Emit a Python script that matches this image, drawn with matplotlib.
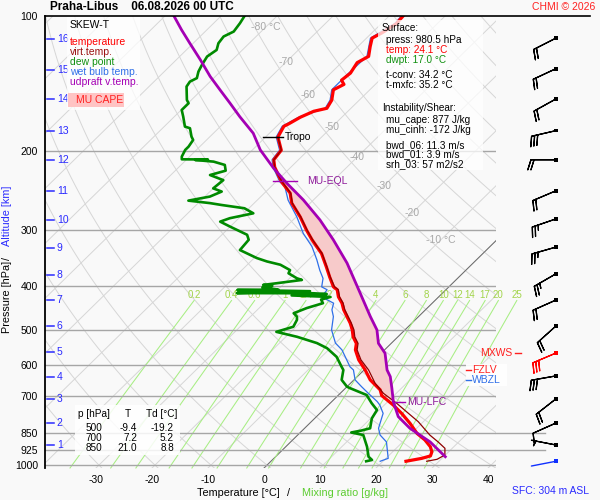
import numpy as np
import matplotlib
matplotlib.use("Agg")
import matplotlib.pyplot as plt
from matplotlib.patches import Rectangle
from matplotlib.lines import Line2D
from matplotlib.ticker import NullLocator, NullFormatter

plt.rcParams['font.family'] = ['Liberation Sans', 'DejaVu Sans']

# ------------------------------------------------------------------ data
temp_p = [980.5, 966, 954, 934, 910, 879, 850, 807, 767, 735, 700, 680, 646, 614, 583,
          554, 536, 518, 500, 483, 451, 436, 422, 407, 401, 381, 362, 338, 315, 300,
          280, 261, 248, 234, 226, 217, 209, 199, 186, 176, 174, 168, 163, 160.5, 154,
          146, 142, 139, 134, 127, 123, 117, 112, 109, 104, 100]
temp_t = [24.1, 26.4, 27.5, 27.0, 25.8, 23.6, 21.0, 17.9, 14.6, 11.6, 7.8, 6.5, 2.9, 0.2, -2.8,
          -5.2, -6.2, -8.0, -9.4, -11.0, -14.6, -16.1, -17.9, -19.4, -20.6, -23.1, -25.5, -28.8, -33.0, -35.7,
          -39.3, -43.3, -45.4, -49.0, -50.8, -52.9, -54.4, -54.8, -57.8, -58.7, -58.3, -57.4, -56.1, -54.3, -54.9,
          -56.5, -55.6, -56.8, -56.5, -57.2, -56.3, -57.8, -59.0, -58.2, -57.3, -57.5]

virt_p = [980.5, 970.7, 949.5, 917.5, 887.8, 857.4, 800.6, 760.8, 728.5, 692.1, 657.5, 614, 583,
          554, 536, 518, 500, 483, 451, 436, 422, 407, 401, 381, 362, 338, 315, 300,
          280, 261, 248, 234, 226, 217, 209, 199, 186]
virt_t = [27.8, 29.3, 29.9, 28.7, 26.3, 23.6, 19.1, 15.2, 11.9, 7.7, 4.4, 0.8, -2.4,
          -4.9, -5.9, -7.7, -9.1, -10.8, -14.4, -15.9, -17.7, -19.2, -20.4, -23.0, -25.4, -28.7, -32.9, -35.6,
          -39.2, -43.2, -45.3, -48.9, -50.8, -52.9, -54.4, -54.8, -57.8]

dewp_p = [980.5, 974, 958, 910, 857, 846, 838, 828, 787, 754, 728, 698, 674, 669, 646, 614, 604,
          574, 549, 535, 518, 505, 492, 475, 467, 459, 447, 436, 428, 422.3, 419, 416,
          414.4, 414, 410, 407.4, 406.5, 402, 399, 397, 393.6, 387, 383.7, 374, 368, 358, 352, 346,
          332, 315, 307, 294.5, 287, 282, 275, 268, 263.5, 261, 257.7, 252.4, 246, 242, 232,
          226, 221, 214.6, 211, 209.2, 208.7, 208.5, 205.6, 198.7, 195.4, 188.8, 185.6, 177.8,
          176.3, 167.6, 161.9, 156.4, 153.8, 143.6, 140, 137.5, 133, 128.5, 123.1, 119, 115,
          111.1, 108.3, 103.8, 100]
dewp_t = [17.0, 17.8, 16.6, 14.5, 11.7, 9.1, 10.5, 11.7, 10.2, 9.6, 7.4, 5.0, 0.8, 0.0, -2.2, -3.7, -4.6,
          -7.3, -10.6, -13.3, -18.0, -22.6, -20.5, -21.1, -21.7, -22.9, -21.5, -19.5, -20.5, -19.3, -26.5, -20.5,
          -23.0, -36.7, -24.0, -37.2, -30.0, -33.2, -31.7, -33.5, -31.4, -27.5, -28.7, -31.1, -31.4, -34.1, -37.1, -39.5,
          -44.0, -44.3, -45.5, -50.0, -52.7, -51.6, -48.3, -50.8, -55.5, -57.9, -62.2, -59.1, -57.9, -60.0, -59.7,
          -63.0, -61.0, -62.2, -64.8, -68.4, -66.2, -70.9, -71.4, -72.0, -72.0, -72.4, -73.3, -75.1,
          -76.3, -78.4, -79.9, -79.9, -80.8, -83.3, -83.6, -83.0, -83.9, -84.5, -85.1, -84.6, -85.5,
          -85.8, -84.9, -85.3, -85.8]

wetb_p = [980.5, 966, 888, 857, 828, 767, 735, 722, 692, 669, 646, 614, 604, 554, 535, 500, 467,
          451, 436, 422, 407, 401, 384, 368, 349, 326, 305, 280, 257, 240, 234, 226, 217, 209,
          199, 186, 176, 168, 160.5, 154, 146, 134, 123, 112, 104, 100]
wetb_t = [19.5, 20.4, 17.1, 14.7, 13.2, 11.3, 9.2, 8.1, 5.0, 2.6, 0.2, -1.9, -3.1, -7.6, -10.0, -13.1, -15.2,
          -16.7, -17.6, -20.9, -21.2, -22.7, -24.0, -26.1, -28.5, -31.8, -35.7, -39.9, -44.5, -47.5, -49.3, -51.1, -53.2, -54.7,
          -55.1, -58.1, -59.0, -57.7, -54.6, -55.2, -56.8, -56.8, -56.6, -59.3, -57.6, -57.8]

parc_p = [958, 888, 828, 780, 722.5, 674.5, 635.5, 614, 563.6, 535.5, 500, 467, 429, 414, 355,
          315, 284.5, 256.8, 235.7, 218.2, 198.7, 182.4, 167.6, 156.4, 146.1, 136.4, 125.2,
          115, 107.4, 100]
parc_t = [30.3, 24.9, 18.8, 14.6, 11.0, 8.3, 5.9, 4.1, 0.7, -2.3, -5.0, -8.6, -12.9, -14.7, -22.5,
          -29.2, -35.2, -41.8, -47.8, -52.9, -58.6, -62.9, -68.3, -72.5, -76.7, -80.9, -85.7,
          -90.6, -94.5, -98.4]

# wind barbs (pressure, direction deg, speed kt)
barb_p = [112, 131, 153, 180, 209, 245, 283, 327, 375, 429, 490, 563, 633, 712, 806, 902]
barb_dir = [243, 245, 241, 257, 270, 247, 251, 254, 240, 246, 228, 247, 260, 232, 246, 281]
barb_spd = [20, 20, 20, 30, 20, 20, 25, 25, 25, 20, 20, 30, 30, 20, 10, 5]
sfc_p, sfc_dir = 980.5, 259

# levels
lfc_p, el_p, trop_p = 722.0, 233.0, 186.0
mxws_p, fzl_p, wbz_p = 563.0, 614.0, 646.0

p_ticks = [100, 200, 300, 400, 500, 600, 700, 850, 925, 1000]
t_ticks = [-30, -20, -10, 0, 10, 20, 30, 40]
alt_km = list(range(1, 17))
alt_p = [902.5, 804.6, 712, 635.5, 560, 490, 428.8, 376.8, 328, 284.5, 245.2, 209.2, 180.1, 153.2, 131.7, 112.4]
mix_ratios = [0.2, 0.4, 0.6, 1, 1.4, 2, 3, 4, 6, 8, 10, 12, 14, 17, 20, 25]
iso_label_t = [-80, -70, -60, -50, -40, -30, -20, -10]
iso_label_p = [105.8, 126.6, 149.9, 176.6, 206, 239, 274.5, 315.3]

table_p = ['500', '700', '850']
table_t = ['-9.4', '7.2', '21.0']
table_td = ['-19.2', '5.2', '8.8']

# ------------------------------------------------------------------ geometry
PB = 1015.0      # bottom pressure of the diagram
SK = 35.52       # skew (deg C per unit ln p)
BG = '#f9f9f9'


def sx(t, p):
    return np.asarray(t, float) + SK * np.log(PB / np.asarray(p, float))


def td_from_w(w, p):
    e = w * p / (622.0 + w)
    l = np.log(e / 6.112)
    return 243.5 * l / (17.67 - l)


def fx(px):
    return px / 600.0


def fy(py):
    return 1.0 - py / 500.0


def py_of(p):
    return 468.0 - 195.04 * np.log(PB / p)


fig = plt.figure(figsize=(6, 5), dpi=100, facecolor=BG)
ax = fig.add_axes([45 / 600, 32 / 500, 451 / 600, 452 / 500])
ax.set_facecolor(BG)
ax.set_yscale('log')
ax.set_ylim(PB, 100)
ax.set_xlim(-39.1, 41.4)

# background grid -------------------------------------------------------
pp = np.geomspace(PB, 100, 80)
for t in range(-130, 50, 10):
    ax.plot(sx(t, pp), pp, color='#d6d6d6', lw=0.7, zorder=1)
ax.plot(sx(0, pp), pp, color='#6a6a6a', lw=0.7, zorder=1.2)
for th in range(-40, 190, 10):
    tt = (th + 273.15) * (pp / 1000.0) ** 0.2857 - 273.15
    ax.plot(sx(tt, pp), pp, color='#d6d6d6', lw=0.7, zorder=1)

for p in p_ticks[1:]:
    ax.axhline(p, color='#a6a6a6', lw=1.0, zorder=2)
for p in (850, 925):
    ax.plot([1.0, 1.109], [p, p], transform=ax.get_yaxis_transform(), color='#a6a6a6',
            lw=1.0, clip_on=False, zorder=2)

pm = np.geomspace(PB, 430, 40)
for w in mix_ratios:
    ax.plot(sx(td_from_w(w, pm), pm), pm, color='#a8ee84', lw=0.75, zorder=1.5, clip_on=False)
    ax.text(sx(td_from_w(w, 430.0), 430.0), 417, f'{w:g}', color='#a2d44a', fontsize=7,
            ha='center', va='center', zorder=2)

for t, p in zip(iso_label_t, iso_label_p):
    s = f'{t} °C' if t in (-80, -10) else f'{t}'
    ax.text(sx(t, p), p, s, color='#a8a8a8', fontsize=7.5, ha='center', va='center', zorder=2)

# CAPE ------------------------------------------------------------------
pg = np.geomspace(lfc_p, el_p, 120)
tv_i = np.interp(np.log(pg), np.log(virt_p[::-1]), virt_t[::-1])
pa_i = np.interp(np.log(pg), np.log(parc_p[::-1]), parc_t[::-1])
ax.fill_betweenx(pg, sx(tv_i, pg), sx(pa_i, pg), where=pa_i >= tv_i, color='#f7caca',
                 lw=0, zorder=3)

# profiles --------------------------------------------------------------
ax.plot(sx(wetb_t, wetb_p), wetb_p, color='#2f6fe8', lw=0.9, zorder=4)
ax.plot(sx(dewp_t, dewp_p), dewp_p, color='#008a00', lw=1.9, zorder=5)
ax.plot(sx(temp_t, temp_p), temp_p, color='#ff0000', lw=2.3, zorder=6)
ax.plot(sx(virt_t, virt_p), virt_p, color='#8e0000', lw=0.9, zorder=7)
ax.plot(sx(parc_t, parc_p), parc_p, color='#a400b4', lw=2.0, zorder=8)

# markers ---------------------------------------------------------------
t_trop = np.interp(np.log(trop_p), np.log(temp_p[::-1]), temp_t[::-1])
xt = sx(t_trop, trop_p)
ax.plot([xt - 2.7, xt + 0.9], [trop_p, trop_p], color='k', lw=1.0, zorder=9)
ax.text(xt + 1.2, trop_p, 'Tropo', fontsize=7.5, va='center', ha='left', zorder=9)

t_el = np.interp(np.log(el_p), np.log(parc_p[::-1]), parc_t[::-1])
xe = sx(t_el, el_p)
ax.plot([xe - 2.2, xe + 2.2], [el_p, el_p], color='#a400b4', lw=1.0, zorder=9)
ax.text(xe + 3.9, el_p, 'MU-EQL', color='#8e1a9a', fontsize=7.5, va='center', zorder=9)

t_lfc = np.interp(np.log(lfc_p), np.log(parc_p[::-1]), parc_t[::-1])
xl = sx(t_lfc, lfc_p)
ax.plot([xl, xl + 2.1], [lfc_p, lfc_p], color='#a400b4', lw=1.0, zorder=9)
ax.text(xl + 2.4, lfc_p, 'MU-LFC', color='#8e1a9a', fontsize=7.5, va='center', zorder=9)

# altitude ticks ------------------------------------------------------------
for km, p in zip(alt_km, alt_p):
    ax.plot([0.004, 0.020], [p, p], transform=ax.get_yaxis_transform(), color='#2a2aff',
            lw=1.1, zorder=9)
    ax.text(0.026, p, str(km), transform=ax.get_yaxis_transform(), color='#2a2aff',
            fontsize=7.5, va='center', ha='left', zorder=9)

# wind barbs ----------------------------------------------------------------
bx = 52.1
bd = np.radians(barb_dir)
bs = np.asarray(barb_spd, float)
bu = -bs * np.sin(bd)
bv = -bs * np.cos(bd)
bcol = ['#ff0000' if p == mxws_p else 'black' for p in barb_p]
ax.barbs(np.full(len(barb_p), bx), barb_p, bu, bv, length=6, lw=0.9, barbcolor=bcol,
         flagcolor=bcol, clip_on=False, zorder=9, flip_barb=True)
ax.scatter(np.full(len(barb_p), bx), barb_p, s=7, marker='s', c=bcol, clip_on=False, zorder=10,
           linewidths=0)
sd = np.radians(sfc_dir)
ax.annotate('', xy=(bx, sfc_p), xytext=(18 * np.sin(sd), 18 * np.cos(sd)),
            textcoords='offset points', annotation_clip=False,
            arrowprops=dict(arrowstyle='-', color='#1030ff', lw=1.0, shrinkA=0, shrinkB=0))
ax.scatter([bx], [sfc_p], s=7, marker='s', c='#1030ff', clip_on=False, zorder=10, linewidths=0)

# axes cosmetics --------------------------------------------------------
ax.set_yticks(p_ticks)
ax.set_yticklabels([str(p) for p in p_ticks])
ax.yaxis.set_minor_locator(NullLocator())
ax.yaxis.set_minor_formatter(NullFormatter())
ax.set_xticks(t_ticks)
ax.set_xticklabels([str(t) for t in t_ticks])
ax.tick_params(axis='both', length=0, labelsize=7.5)
ax.tick_params(axis='x', pad=5)
ax.tick_params(axis='y', pad=5)
for s in ('top', 'right', 'bottom'):
    ax.spines[s].set_visible(False)
ax.spines['left'].set_linewidth(1.3)

fig.add_artist(Line2D([fx(45), fx(590)], [fy(16), fy(16)], transform=fig.transFigure,
                      color='k', lw=1.2))

# boxes -------------------------------------------------------------------
def box(x0, y0, x1, y1, fc='white', alpha=0.75, z=5):
    fig.add_artist(Rectangle((fx(x0), fy(y1)), (x1 - x0) / 600, (y1 - y0) / 500,
                             transform=fig.transFigure, facecolor=fc, edgecolor='none',
                             alpha=alpha, zorder=z))

box(67, 17, 140, 110)
box(378, 20, 483, 170)
box(75, 405, 180, 455, alpha=0.85)
box(466, 364, 507, 386, alpha=0.9)
box(68, 93, 124, 107, fc='#ffc4c4', alpha=1.0, z=6)

FS = 7.5
fig.text(fx(50), fy(7.5), 'Praha-Libus    06.08.2026 00 UTC', fontsize=8.5, weight='bold',
         va='center')
fig.text(fx(595), fy(7), 'CHMI © 2026', color='#ff2020', fontsize=7.5, ha='right', va='center')

leg = [('SKEW-T', 'black', 25), ('temperature', '#ff0000', 42.3), ('virt.temp.', '#9a1010', 52.3),
       ('dew point', '#109010', 61.7), ('wet bulb temp.', '#2f6fe8', 71.7),
       ('udpraft v.temp.', '#a400b4', 81.7)]
for s, c, y in leg:
    fig.text(fx(70), fy(y), s, color=c, fontsize=FS, va='center', zorder=7)
fig.text(fx(76), fy(100), 'MU CAPE', color='#ff2020', fontsize=FS, va='center', zorder=7)

sfc_lines = [('Surface:', 'black', 382, 28), ('press: 980.5 hPa', 'black', 386, 40),
             ('temp: 24.1 °C', '#ff0000', 386, 50), ('dwpt: 17.0 °C', '#109010', 386, 60),
             ('t-conv: 34.2 °C', 'black', 386, 74.7), ('t-mxfc: 35.2 °C', 'black', 386, 84.5),
             ('Instability/Shear:', 'black', 382, 108), ('mu_cape: 877 J/kg', 'black', 386, 119.7),
             ('mu_cinh: -172 J/kg', 'black', 386, 129.7), ('bwd_06: 11.3 m/s', 'black', 386, 144.7),
             ('bwd_01: 3.9 m/s', 'black', 386, 154.3), ('srh_03: 57 m2/s2', 'black', 386, 164.3)]
for s, c, x, y in sfc_lines:
    fig.text(fx(x), fy(y), s, color=c, fontsize=7.2, va='center', zorder=7)

fig.text(fx(78), fy(414), 'p [hPa]', fontsize=7.2, va='center', zorder=7)
fig.text(fx(125), fy(414), 'T', fontsize=7.2, va='center', zorder=7)
fig.text(fx(146), fy(414), 'Td [°C]', fontsize=7.2, va='center', zorder=7)
for i, y in enumerate([428, 438, 448]):
    fig.text(fx(102), fy(y), table_p[i], fontsize=7.2, va='center', ha='right', zorder=7)
    fig.text(fx(137), fy(y), table_t[i], fontsize=7.2, va='center', ha='right', zorder=7)
    fig.text(fx(174), fy(y), table_td[i], fontsize=7.2, va='center', ha='right', zorder=7)

# level labels at right
ym = py_of(mxws_p)
fig.text(fx(512), fy(ym), 'MXWS', color='#ff2020', fontsize=FS, ha='right', va='center', zorder=7)
fig.add_artist(Line2D([fx(515), fx(521)], [fy(ym), fy(ym)], transform=fig.transFigure,
                      color='#ff2020', lw=1.0, zorder=7))
yf = py_of(fzl_p)
fig.add_artist(Line2D([fx(466), fx(471)], [fy(yf), fy(yf)], transform=fig.transFigure,
                      color='#ff2020', lw=1.0, zorder=7))
fig.text(fx(472), fy(yf), 'FZLV', color='#ff2020', fontsize=FS, va='center', zorder=7)
yw = py_of(wbz_p)
fig.add_artist(Line2D([fx(466), fx(471)], [fy(yw), fy(yw)], transform=fig.transFigure,
                      color='#2f6fe8', lw=1.0, zorder=7))
fig.text(fx(472), fy(yw), 'WBZL', color='#2f6fe8', fontsize=FS, va='center', zorder=7)

# axis titles
fig.text(fx(197), fy(492.5), 'Temperature [°C]', fontsize=7.8, va='center')
fig.text(fx(287), fy(492.5), '/', fontsize=7.8, va='center')
fig.text(fx(302), fy(492.5), 'Mixing ratio [g/kg]', color='#5ccc30', fontsize=7.8, va='center')
fig.text(fx(512), fy(491.5), 'SFC: 304 m ASL', color='#2a2aff', fontsize=7.5, va='center')
fig.text(fx(7), fy(333), 'Pressure [hPa]', rotation=90, fontsize=7.8, ha='center', va='bottom')
fig.text(fx(7), fy(258), '/', rotation=90, fontsize=7.8, ha='center', va='center')
fig.text(fx(7), fy(246), 'Altitude [km]', rotation=90, color='#2a2aff', fontsize=7.8,
         ha='center', va='bottom')

fig.savefig('out.png', dpi=100, facecolor=BG)
